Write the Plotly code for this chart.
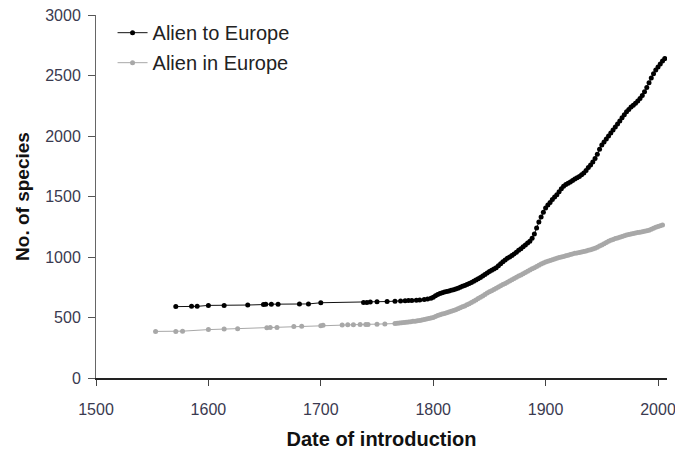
import plotly.graph_objects as go

# Alien to Europe (black)
to_years = [1571, 1585, 1590, 1600, 1614, 1635, 1649, 1651, 1656, 1662, 1681, 1689, 1700,
            1738, 1741, 1744, 1750, 1759, 1766, 1771, 1775, 1778, 1781, 1785, 1788, 1792, 1795, 1798,
            1800, 1802, 1804, 1806, 1808, 1810, 1812, 1814, 1816, 1818, 1820, 1822, 1824, 1826, 1828,
            1830, 1832, 1834, 1836, 1838, 1840, 1842, 1844, 1846, 1848, 1850, 1852, 1854, 1856, 1858,
            1860, 1862, 1864, 1866, 1868, 1870, 1872, 1874, 1876, 1878, 1880, 1882, 1884, 1886, 1888,
            1890, 1892, 1894, 1896, 1898, 1900, 1902, 1904, 1906, 1908, 1910, 1912, 1914, 1916, 1918,
            1920, 1922, 1924, 1926, 1928, 1930, 1932, 1934, 1936, 1938, 1940, 1942, 1944, 1946, 1948,
            1950, 1952, 1954, 1956, 1958, 1960, 1962, 1964, 1966, 1968, 1970, 1972, 1974, 1976, 1978,
            1980, 1982, 1984, 1986, 1988, 1990, 1992, 1994, 1996, 1998, 2000, 2002, 2004, 2006]
to_counts = [590, 592, 592, 600, 600, 603, 607, 610, 610, 610, 612, 612, 622,
             625, 625, 628, 630, 632, 635, 637, 638, 640, 640, 642, 645, 648, 652, 660,
             668, 680, 690, 698, 705, 710, 714, 720, 726, 730, 735, 742, 750, 758, 765,
             772, 780, 790, 800, 810, 820, 830, 842, 855, 868, 880, 890, 900, 912, 928,
             945, 960, 975, 990, 1000, 1012, 1025, 1040, 1055, 1068, 1085, 1100, 1115, 1130, 1155,
             1190, 1240, 1290, 1330, 1370, 1405, 1430, 1450, 1475, 1495, 1515, 1540, 1565, 1585, 1600,
             1610, 1620, 1632, 1645, 1655, 1665, 1680, 1695, 1715, 1740, 1760, 1785, 1815, 1850, 1890,
             1925, 1950, 1975, 2000, 2025, 2050, 2075, 2100, 2125, 2150, 2175, 2200, 2220, 2240, 2255,
             2270, 2290, 2310, 2335, 2365, 2400, 2440, 2480, 2515, 2545, 2570, 2595, 2620, 2640]

# Alien in Europe (grey)
in_years = [1553, 1571, 1577, 1600, 1614, 1626, 1652, 1655, 1661, 1676, 1683, 1700, 1702,
            1719, 1724, 1729, 1735, 1740, 1742, 1750, 1757,
            1766, 1768, 1770, 1772, 1774, 1776, 1778, 1780, 1782, 1784, 1786, 1788, 1790, 1792, 1794,
            1796, 1798, 1800, 1802, 1804, 1806, 1808, 1810, 1812, 1814, 1816, 1818, 1820, 1822, 1824,
            1826, 1828, 1830, 1832, 1834, 1836, 1838, 1840, 1842, 1844, 1846, 1848, 1850, 1852, 1854,
            1856, 1858, 1860, 1862, 1864, 1866, 1868, 1870, 1872, 1874, 1876, 1878, 1880, 1882, 1884,
            1886, 1888, 1890, 1892, 1894, 1896, 1898, 1900, 1902, 1904, 1906, 1908, 1910, 1912, 1914,
            1916, 1918, 1920, 1922, 1924, 1926, 1928, 1930, 1932, 1934, 1936, 1938, 1940, 1942, 1944,
            1946, 1948, 1950, 1952, 1954, 1956, 1958, 1960, 1962, 1964, 1966, 1968, 1970, 1972, 1974,
            1976, 1978, 1980, 1982, 1984, 1986, 1988, 1990, 1992, 1994, 1996, 1998, 2000, 2002, 2004]
in_counts = [385, 385, 387, 400, 405, 408, 415, 417, 418, 425, 427, 432, 435,
             438, 440, 440, 442, 443, 443, 445, 447,
             450, 452, 455, 457, 458, 460, 462, 465, 468, 470, 473, 476, 480, 484, 488,
             492, 496, 500, 508, 516, 522, 528, 534, 540, 546, 552, 558, 564, 572, 580,
             588, 596, 605, 614, 624, 634, 645, 656, 667, 678, 690, 702, 712, 722, 732,
             742, 752, 762, 772, 782, 792, 802, 812, 822, 832, 842, 852, 862, 872, 882,
             892, 902, 912, 922, 932, 942, 950, 958, 965, 972, 978, 984, 990, 995, 1000,
             1005, 1010, 1015, 1020, 1025, 1030, 1034, 1038, 1042, 1046, 1050, 1055, 1060, 1066, 1072,
             1080, 1090, 1100, 1110, 1120, 1130, 1138, 1145, 1152, 1158, 1164, 1170, 1176, 1182, 1186,
             1190, 1194, 1198, 1202, 1205, 1208, 1212, 1216, 1222, 1230, 1238, 1245, 1252, 1258, 1265]

x_ticks = [1500, 1600, 1700, 1800, 1900, 2000]
y_ticks = [0, 500, 1000, 1500, 2000, 2500, 3000]

FONT = "Liberation Sans, Arial, sans-serif"

fig = go.Figure()
fig.add_trace(go.Scatter(
    x=to_years, y=to_counts, mode="lines+markers", name="Alien to Europe",
    legendgroup="a",
    line=dict(color="#111111", width=1),
    marker=dict(color="#000000", size=5),
))
fig.add_trace(go.Scatter(
    x=in_years, y=in_counts, mode="lines+markers", name="Alien in Europe",
    legendgroup="b",
    line=dict(color="#a8a8a8", width=1),
    marker=dict(color="#a8a8a8", size=5),
))

fig.update_layout(
    width=675, height=450,
    margin=dict(l=96, r=8, t=15, b=72),
    paper_bgcolor="white", plot_bgcolor="white",
    font=dict(family=FONT, color="#333333"),
    showlegend=True,
    legend=dict(
        x=0.029, y=1.005, xanchor="left", yanchor="top",
        font=dict(size=20, color="#222222", family=FONT),
        bgcolor="rgba(0,0,0,0)", tracegroupgap=1,
    ),
    xaxis=dict(
        range=[1500, 2008], tickvals=x_ticks, ticktext=[str(v) for v in x_ticks],
        showgrid=False, zeroline=False, automargin=False,
        showline=True, linecolor="#222222", linewidth=1.5,
        ticks="outside", ticklen=6, tickcolor="#444444",
        tickfont=dict(size=16, color="#3a3a50", family=FONT),
        ticklabelstandoff=10, ticklabeloverflow="allow",
        title=dict(text="<b>Date of introduction</b>", font=dict(size=20, color="#111111", family=FONT), standoff=17),
    ),
    yaxis=dict(
        range=[0, 3000], tickvals=y_ticks, ticktext=[str(v) for v in y_ticks],
        showgrid=False, zeroline=False, automargin=False,
        showline=True, linecolor="#666666", linewidth=1,
        ticks="outside", ticklen=7, tickcolor="#555555",
        tickfont=dict(size=16, color="#3a3a50", family=FONT),
        ticklabelstandoff=4, ticklabeloverflow="allow",
        title=dict(text="<b>No. of species</b>", font=dict(size=19, color="#111111", family=FONT), standoff=10),
    ),
)

fig.write_html("out.html", config={"displayModeBar": False},
               post_script="document.body.style.margin='0';")
